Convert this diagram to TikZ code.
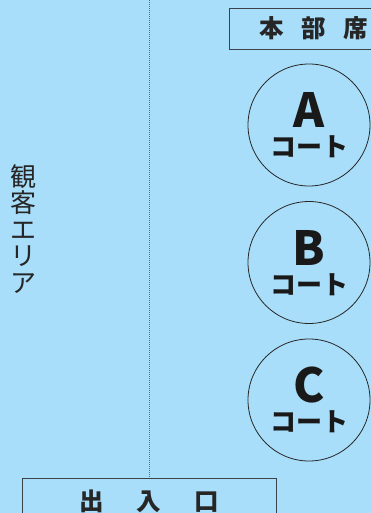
\documentclass[tikz,border=0pt]{standalone}
\usepackage{fontspec}
\setmainfont{Noto Sans CJK JP}
\usetikzlibrary{positioning}
\definecolor{hall}{RGB}{168,222,250}
\definecolor{rim}{RGB}{60,66,74}
\definecolor{aislegray}{RGB}{95,105,115}

\begin{document}
\begin{tikzpicture}[x=1pt, y=-1pt,
  desk/.style={draw=rim, line width=0.9pt, inner sep=0pt,
               font=\bfseries\fontsize{24.5}{24.5}\selectfont, text=black!85},
  court/.style={draw=black!85, circle, minimum size=122pt, inner sep=0pt,
                line width=0.8pt},
  letter/.style={font=\bfseries\fontsize{47}{47}\selectfont, text=black!90},
  kana/.style={font=\bfseries\fontsize{26}{26}\selectfont, text=black!90},
  aisle/.style={densely dotted, aislegray, line width=1pt}
]
\fill[hall] (0,0) rectangle (371,513);
\useasboundingbox (0,0) rectangle (371,513);

\node[desk, minimum width=169pt, minimum height=41pt] (hq) at (313.5,28.5)
  {本\hspace{17.5pt}部\hspace{17.5pt}席};
\node[desk, minimum width=254pt, minimum height=46pt] (exit) at (149,501)
  {出\hspace{33pt}入\hspace{33pt}口};

\coordinate (aislestart) at (149,0);
\draw[aisle] (aislestart) -- (exit.north);

\node[align=center, font=\fontsize{26}{26.5}\selectfont, text=black!85]
  (area) at (23,229) {観\\客\\エ\\リ\\ア};

\node[court] (ca) at (309,125) {};
\node[letter] (la) at (309,110) {A};
\node[kana] (ka) at (309,147) {コート};

\node[court] (cb) at (309,262.5) {};
\node[letter] (lb) at (309,247.5) {B};
\node[kana] (kb) at (309,284.5) {コート};

\node[court] (cc) at (309,400) {};
\node[letter] (lc) at (309,385) {C};
\node[kana] (kc) at (309,422) {コート};
\end{tikzpicture}
\end{document}
